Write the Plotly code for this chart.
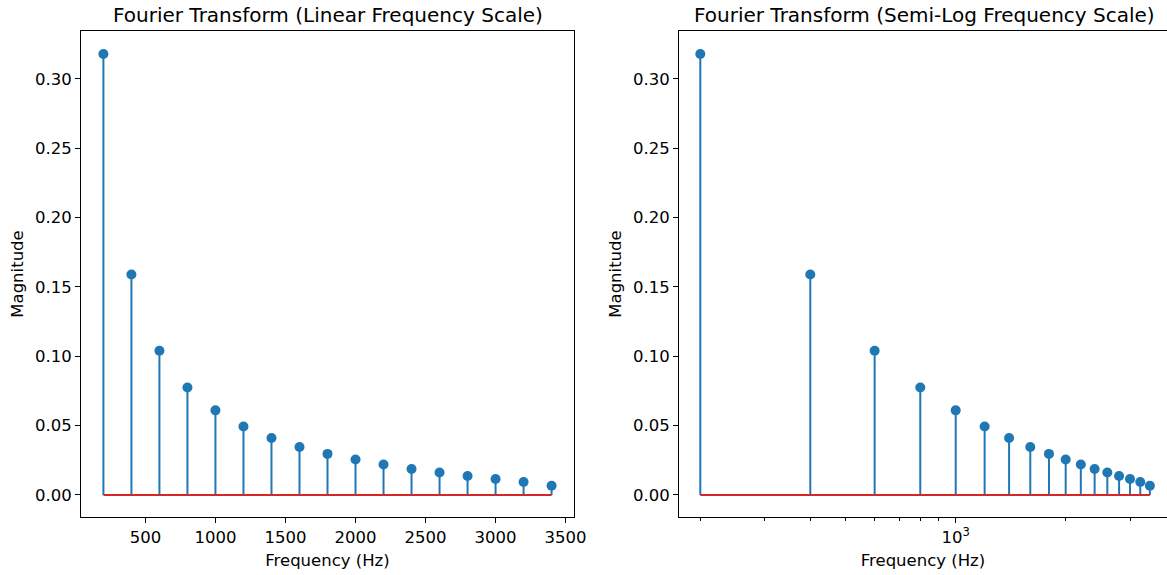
import plotly.graph_objects as go

freqs = [200, 400, 600, 800, 1000, 1200, 1400, 1600, 1800, 2000, 2200, 2400, 2600, 2800, 3000, 3200, 3400]
magnitudes = [0.318, 0.159, 0.104, 0.0775, 0.061, 0.0494, 0.0411, 0.0346, 0.0296, 0.0256,
              0.022, 0.0187, 0.0162, 0.0137, 0.0115, 0.0094, 0.0066]
titles = ["Fourier Transform (Linear Frequency Scale)", "Fourier Transform (Semi-Log Frequency Scale)"]
y_ticks = [0.0, 0.05, 0.10, 0.15, 0.20, 0.25, 0.30]
lin_x_ticks = [500, 1000, 1500, 2000, 2500, 3000, 3500]
log_minor = [200, 300, 400, 500, 600, 700, 800, 900, 2000, 3000]

BLUE = "#1f77b4"
RED = "#d62728"
FONT = "DejaVu Sans"
W, H = 1167, 575
TICK = 16.5
TITLE = 20

stem_x, stem_y = [], []
for f, m in zip(freqs, magnitudes):
    stem_x += [f, f, None]
    stem_y += [0, m, None]

fig = go.Figure()
for i, ax in enumerate(["", "2"]):
    xa, ya = "x" + ax, "y" + ax
    fig.add_trace(go.Scatter(x=stem_x, y=stem_y, mode="lines", line=dict(color=BLUE, width=2),
                             xaxis=xa, yaxis=ya, showlegend=False, hoverinfo="skip"))
    fig.add_trace(go.Scatter(x=[freqs[0], freqs[-1]], y=[0, 0], mode="lines", line=dict(color=RED, width=2),
                             xaxis=xa, yaxis=ya, showlegend=False, hoverinfo="skip"))
    fig.add_trace(go.Scatter(x=freqs, y=magnitudes, mode="markers", marker=dict(color=BLUE, size=10),
                             xaxis=xa, yaxis=ya, showlegend=False))

def px_x(p):
    return p / W

def px_y(p):
    return 1 - p / H

def axis_common(mirror=True):
    return dict(showline=True, linecolor="black", linewidth=1, mirror=mirror, ticks="outside",
                ticklen=5, tickwidth=1, tickcolor="black", showgrid=False, zeroline=False,
                automargin=False, tickfont=dict(family=FONT, size=TICK, color="black"))

ydom = [px_y(517), px_y(31)]
yrange = [-0.0159, 0.3346]
xtitle = dict(text="Frequency (Hz)", font=dict(family=FONT, size=TICK, color="black"), standoff=8)
ytitle = dict(text="Magnitude", font=dict(family=FONT, size=TICK, color="black"), standoff=7)

fig.update_layout(
    width=W, height=H, margin=dict(l=0, r=0, t=0, b=0, autoexpand=False),
    plot_bgcolor="white", paper_bgcolor="white",
    font=dict(family=FONT, size=TICK, color="black"),
    xaxis=dict(domain=[px_x(81), px_x(574)], range=[40, 3560], tickvals=lin_x_ticks,
               ticktext=[str(v) for v in lin_x_ticks], anchor="y", title=xtitle, **axis_common()),
    yaxis=dict(domain=ydom, range=yrange, tickvals=y_ticks, ticktext=["%.2f" % v for v in y_ticks],
               anchor="x", title=ytitle, **axis_common()),
    xaxis2=dict(domain=[px_x(679), 1.0], type="log", range=[2.2427, 3.5783], tickvals=[1000],
                ticktext=["10<sup>3</sup>"], anchor="y2",
                minor=dict(tickmode="array", tickvals=log_minor, ticks="outside", ticklen=3, tickwidth=1,
                           tickcolor="black", showgrid=False),
                title=xtitle, **axis_common()),
    yaxis2=dict(domain=ydom, range=yrange, tickvals=y_ticks, ticktext=["%.2f" % v for v in y_ticks],
                anchor="x2", title=ytitle, **axis_common(mirror=False)),
    annotations=[
        dict(text=titles[0], x=(px_x(81) + px_x(574)) / 2, y=px_y(15), xref="paper", yref="paper",
             showarrow=False, font=dict(family=FONT, size=TITLE, color="black"), xanchor="center", yanchor="middle"),
        dict(text=titles[1], x=(px_x(679) + px_x(1170)) / 2, y=px_y(15), xref="paper", yref="paper",
             showarrow=False, font=dict(family=FONT, size=TITLE, color="black"), xanchor="center", yanchor="middle"),
    ],
)

fig.write_html("out.html")
